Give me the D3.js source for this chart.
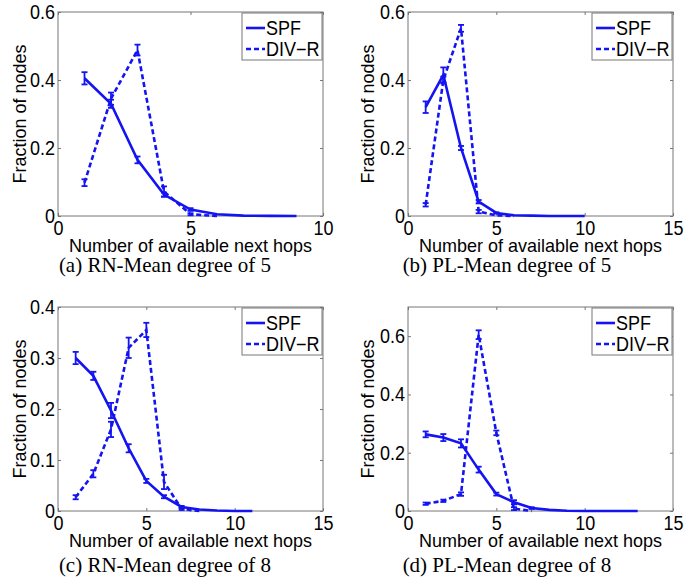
<!DOCTYPE html>
<html>
<head>
<meta charset="utf-8">
<script src="https://cdn.jsdelivr.net/npm/d3@7"></script>
<style>
  body { margin: 0; background: #fff; }
  svg text { font-family: "Liberation Sans", Arial, sans-serif; fill: #000; }
  .caption { font-family: "Liberation Serif", "Times New Roman", serif; }
</style>
</head>
<body>
<svg id="figure" width="684" height="587"></svg>
<script>
// ---- data ----
// (a) RN, mean degree 5
const spfHopsA = [1, 2, 3, 4, 5, 6, 7, 8, 9];
const spfA     = [0.405, 0.33, 0.165, 0.063, 0.019, 0.005, 0.001, 0.0005, 0];
const spfErrA  = [0.018, 0.012, 0.01, 0.006, 0.004, 0, 0, 0, 0];
const divHopsA = [1, 2, 3, 4, 5, 6];
const divA     = [0.098, 0.345, 0.488, 0.072, 0.005, 0];
const divErrA  = [0.01, 0.018, 0.016, 0.015, 0.003, 0];

// (b) PL, mean degree 5
const spfHopsB = [1, 2, 3, 4, 5, 6, 7, 8, 9, 10];
const spfB     = [0.32, 0.415, 0.2, 0.042, 0.009, 0.002, 0.001, 0, 0, 0];
const spfErrB  = [0.017, 0.022, 0.006, 0.005, 0.002, 0, 0, 0, 0, 0];
const divHopsB = [1, 2, 3, 4, 5, 6];
const divB     = [0.033, 0.40, 0.552, 0.013, 0.002, 0];
const divErrB  = [0.005, 0.01, 0.01, 0.005, 0, 0];

// (c) RN, mean degree 8
const spfHopsC = [1, 2, 3, 4, 5, 6, 7, 8, 9, 10, 11];
const spfC     = [0.30, 0.265, 0.197, 0.123, 0.059, 0.028, 0.008, 0.003, 0.001, 0, 0];
const spfErrC  = [0.012, 0.008, 0.015, 0.008, 0.004, 0.003, 0.002, 0, 0, 0, 0];
const divHopsC = [1, 2, 3, 4, 5, 6, 7, 8];
const divC     = [0.027, 0.073, 0.16, 0.32, 0.355, 0.057, 0.004, 0];
const divErrC  = [0.004, 0.007, 0.015, 0.02, 0.014, 0.014, 0.002, 0];

// (d) PL, mean degree 8
const spfHopsD = [1, 2, 3, 4, 5, 6, 7, 8, 9, 10, 11, 12, 13];
const spfD     = [0.263, 0.252, 0.232, 0.142, 0.058, 0.03, 0.01, 0.004, 0.001, 0, 0, 0, 0];
const spfErrD  = [0.01, 0.012, 0.014, 0.01, 0.005, 0.007, 0.003, 0, 0, 0, 0, 0, 0];
const divHopsD = [1, 2, 3, 4, 5, 6, 7];
const divD     = [0.025, 0.035, 0.058, 0.605, 0.268, 0.008, 0];
const divErrD  = [0.004, 0.004, 0.006, 0.015, 0.008, 0.005, 0];

// axes ticks
const xTicks10 = [0, 5, 10];
const xTicks15 = [0, 5, 10, 15];
const yTicks06 = [0, 0.2, 0.4, 0.6];
const yTicks04 = [0, 0.1, 0.2, 0.3, 0.4];

const captions = [
  "(a) RN-Mean degree of 5",
  "(b) PL-Mean degree of 5",
  "(c) RN-Mean degree of 8",
  "(d) PL-Mean degree of 8"
];
const seriesNames = ["SPF", "DIV\u2212R"];

const BLUE = "#1414f2";
const PW = 265, PH = 204;
const FS = 18;          // label font size
const SY = 1.1;         // the source picture is a little taller than wide

const panels = [
  {left: 58,  top: 12,  xMax: 10, xTicks: xTicks10, yMax: 0.6, yTicks: yTicks06,
   spf: {x: spfHopsA, y: spfA, e: spfErrA}, div: {x: divHopsA, y: divA, e: divErrA},
   cap: captions[0], capX: 165, capY: 272, labX: 26},
  {left: 408, top: 12,  xMax: 15, xTicks: xTicks15, yMax: 0.6, yTicks: yTicks06,
   spf: {x: spfHopsB, y: spfB, e: spfErrB}, div: {x: divHopsB, y: divB, e: divErrB},
   cap: captions[1], capX: 507, capY: 272, labX: 374},
  {left: 58,  top: 307, xMax: 15, xTicks: xTicks15, yMax: 0.4, yTicks: yTicks04,
   spf: {x: spfHopsC, y: spfC, e: spfErrC}, div: {x: divHopsC, y: divC, e: divErrC},
   cap: captions[2], capX: 165, capY: 572, labX: 26},
  {left: 408, top: 307, xMax: 15, xTicks: xTicks15, yMax: 0.7, yTicks: yTicks06,
   spf: {x: spfHopsD, y: spfD, e: spfErrD}, div: {x: divHopsD, y: divD, e: divErrD},
   cap: captions[3], capX: 507, capY: 572, labX: 374}
];

const svg = d3.select("#figure");

// horizontal text, slightly stretched upward
function label(parent, x, y, str, size, anchor, sy) {
  return parent.append("text")
    .attr("transform", `translate(${x},${y}) scale(1,${sy || SY})`)
    .attr("text-anchor", anchor || "start")
    .style("font-size", size + "px")
    .text(str);
}

function drawPanel(p) {
  const g = svg.append("g").attr("transform", `translate(${p.left},${p.top})`);
  const x = d3.scaleLinear().domain([0, p.xMax]).range([0, PW]);
  const y = d3.scaleLinear().domain([0, p.yMax]).range([PH, 0]);

  // axes with inward ticks (MATLAB style), mirrored on top/right
  const styleAxis = sel => {
    sel.select(".domain").remove();
    sel.selectAll(".tick line").attr("stroke", "#777");
    sel.selectAll("text")
      .style("font-size", FS + "px")
      .attr("fill", "#000")
      .attr("transform", `scale(1,${SY})`);
  };
  g.append("g").attr("transform", `translate(0,${PH})`)
    .call(d3.axisBottom(x).tickValues(p.xTicks).tickSize(-3).tickPadding(4.5).tickFormat(d3.format("d")))
    .call(styleAxis);
  g.append("g")
    .call(d3.axisTop(x).tickValues(p.xTicks).tickSize(-3).tickFormat(""))
    .call(styleAxis);
  g.append("g")
    .call(d3.axisLeft(y).tickValues(p.yTicks).tickSize(-3).tickPadding(3).tickFormat(d => d === 0 ? "0" : d3.format(".1f")(d)))
    .call(styleAxis);
  g.append("g").attr("transform", `translate(${PW},0)`)
    .call(d3.axisRight(y).tickValues(p.yTicks).tickSize(-3).tickFormat(""))
    .call(styleAxis);

  g.append("rect").attr("width", PW).attr("height", PH)
    .attr("fill", "none").attr("stroke", "#777").attr("stroke-width", 1);

  const line = d3.line().x(d => x(d[0])).y(d => y(d[1]));

  [[p.spf, null], [p.div, "5,3"]].forEach(([s, dash]) => {
    const pts = s.x.map((h, i) => [h, s.y[i], s.e[i]]);
    g.append("path").datum(pts)
      .attr("d", line)
      .attr("fill", "none")
      .attr("stroke", BLUE)
      .attr("stroke-width", 2.6)
      .attr("stroke-dasharray", dash);
    const eb = g.append("g").attr("stroke", BLUE).attr("stroke-width", 1.8);
    pts.filter(d => d[2] > 0).forEach(d => {
      const cx = x(d[0]), y0 = y(d[1] - d[2]), y1 = y(d[1] + d[2]);
      eb.append("line").attr("x1", cx).attr("x2", cx).attr("y1", y0).attr("y2", y1);
      eb.append("line").attr("x1", cx - 3).attr("x2", cx + 3).attr("y1", y0).attr("y2", y0);
      eb.append("line").attr("x1", cx - 3).attr("x2", cx + 3).attr("y1", y1).attr("y2", y1);
    });
  });

  // legend
  const lg = g.append("g").attr("transform", `translate(${PW - 81},1)`);
  lg.append("rect").attr("width", 80).attr("height", 47)
    .attr("fill", "#fff").attr("stroke", "#777");
  seriesNames.forEach((name, i) => {
    const ly = 15 + i * 21;
    lg.append("line").attr("x1", 4).attr("x2", 23).attr("y1", ly).attr("y2", ly)
      .attr("stroke", BLUE).attr("stroke-width", 2.6)
      .attr("stroke-dasharray", i === 1 ? "5,3" : null);
    label(lg, 24, ly + 7, name, FS);
  });

  // axis labels
  label(g, PW / 2, PH + 36, "Number of available next hops", FS, "middle", 1.04);
  svg.append("text")
    .attr("transform", `translate(${p.labX},${p.top + PH / 2}) rotate(-90)`)
    .attr("text-anchor", "middle").style("font-size", FS + "px")
    .text("Fraction of nodes");

  label(svg, p.capX, p.capY, p.cap, 21, "middle", 1.0).attr("class", "caption");
}

panels.forEach(drawPanel);
</script>
</body>
</html>
